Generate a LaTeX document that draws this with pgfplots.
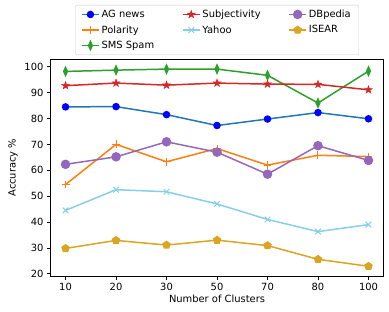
\documentclass[border=0pt]{standalone}
\usepackage{fontspec}
\setmainfont{DejaVu Sans}
\usepackage{pgfplots}
\pgfplotsset{compat=1.18}
\usetikzlibrary{plotmarks}
\definecolor{tabblue}{HTML}{1F77B4}
\definecolor{taborange}{HTML}{FF7F0E}
\definecolor{tabgreen}{HTML}{2CA02C}
\definecolor{tabred}{HTML}{D62728}
\definecolor{tabpurple}{HTML}{9467BD}
\definecolor{skyblue}{HTML}{87CEEB}
\definecolor{goldenrod}{HTML}{DAA520}
\pgfdeclareplotmark{fstar}{%
  \pgfpathmoveto{\pgfpointpolar{90}{\pgfplotmarksize}}%
  \pgfpathlineto{\pgfpointpolar{126}{0.4\pgfplotmarksize}}%
  \pgfpathlineto{\pgfpointpolar{162}{\pgfplotmarksize}}%
  \pgfpathlineto{\pgfpointpolar{198}{0.4\pgfplotmarksize}}%
  \pgfpathlineto{\pgfpointpolar{234}{\pgfplotmarksize}}%
  \pgfpathlineto{\pgfpointpolar{270}{0.4\pgfplotmarksize}}%
  \pgfpathlineto{\pgfpointpolar{306}{\pgfplotmarksize}}%
  \pgfpathlineto{\pgfpointpolar{342}{0.4\pgfplotmarksize}}%
  \pgfpathlineto{\pgfpointpolar{18}{\pgfplotmarksize}}%
  \pgfpathlineto{\pgfpointpolar{54}{0.4\pgfplotmarksize}}%
  \pgfpathclose
  \pgfusepathqfillstroke}
\pgfplotsset{
  agstyle/.style={color=tabblue, line width=1.5bp, mark=*, mark size=3bp, mark options={fill=blue, draw=blue, solid}},
  polstyle/.style={color=taborange, line width=1.5bp, mark=+, mark size=4bp, mark options={solid, draw=taborange, line width=1bp}},
  smsstyle/.style={color=tabgreen, line width=1.5bp, mark=diamond*, mark size=4bp, mark options={solid, xscale=0.6, fill=tabgreen}},
  subjstyle/.style={color=tabred, line width=1.5bp, mark=fstar, mark size=4bp, mark options={solid, fill=tabred, line width=0.5bp}},
  yahoostyle/.style={color=skyblue, line width=1.5bp, mark=x, mark size=4bp, mark options={solid, draw=skyblue, line width=1bp}},
  dbstyle/.style={color=tabpurple, line width=1.5bp, mark=*, mark size=4bp, mark options={solid, fill=tabpurple}},
  isearstyle/.style={color=goldenrod, line width=1.5bp, mark=pentagon*, mark size=3.6bp, mark options={solid, fill=goldenrod}},
}
\begin{document}
\begin{tikzpicture}
\begin{axis}[
  scale only axis, width=335bp, height=218bp,
  xmin=-0.3, xmax=6.3, ymin=19.1, ymax=102.9,
  xtick={0,...,6}, xticklabels={10,20,30,50,70,80,100},
  ytick={20,30,...,100},
  tick align=outside, xtick pos=bottom, ytick pos=left,
  major tick length=3.5bp,
  every tick/.style={black, line width=0.8bp},
  axis line style={line width=0.8bp},
  font=\fontsize{10}{12}\selectfont,
  ticklabel style={font=\fontsize{10}{12}\selectfont},
  /pgf/number format/assume math mode=true,
  xlabel={Number of Clusters}, ylabel={Accuracy \%},
  xlabel style={yshift=2bp},
  legend columns=3,
  legend cell align=left,
  legend style={at={(0.5,1.02)}, anchor=south, draw=black!20, rounded corners=2bp,
    font=\fontsize{10}{12}\selectfont, inner xsep=6bp, inner ysep=1.5bp,
    nodes={inner ysep=3.3bp},
    /tikz/every even column/.append style={column sep=26bp}},
]
\addplot[agstyle, forget plot] coordinates {(0,84.5) (1,84.6) (2,81.5) (3,77.3) (4,79.8) (5,82.3) (6,79.9)};
\addplot[polstyle, forget plot] coordinates {(0,54.5) (1,70.0) (2,63.3) (3,68.4) (4,62.0) (5,65.8) (6,65.3)};
\addplot[smsstyle, forget plot] coordinates {(0,98.2) (1,98.7) (2,99.1) (3,99.1) (4,96.7) (5,86.0) (6,98.3)};
\addplot[subjstyle, forget plot] coordinates {(0,92.7) (1,93.7) (2,92.9) (3,93.7) (4,93.3) (5,93.2) (6,91.1)};
\addplot[yahoostyle, forget plot] coordinates {(0,44.5) (1,52.5) (2,51.7) (3,47.0) (4,41.0) (5,36.3) (6,39.0)};
\addplot[dbstyle, forget plot] coordinates {(0,62.3) (1,65.2) (2,71.0) (3,67.0) (4,58.5) (5,69.5) (6,63.8)};
\addplot[isearstyle, forget plot] coordinates {(0,29.8) (1,32.9) (2,31.1) (3,33.0) (4,30.9) (5,25.6) (6,22.9)};
\addlegendimage{agstyle}\addlegendentry{AG news}
\addlegendimage{subjstyle}\addlegendentry{Subjectivity}
\addlegendimage{dbstyle}\addlegendentry{DBpedia}
\addlegendimage{polstyle}\addlegendentry{Polarity}
\addlegendimage{yahoostyle}\addlegendentry{Yahoo}
\addlegendimage{isearstyle}\addlegendentry{ISEAR}
\addlegendimage{smsstyle}\addlegendentry{SMS Spam}
\end{axis}
\path ([shift={(-5bp,-5bp)}]current bounding box.south west) rectangle ([shift={(5bp,5bp)}]current bounding box.north east);
\end{tikzpicture}
\end{document}
